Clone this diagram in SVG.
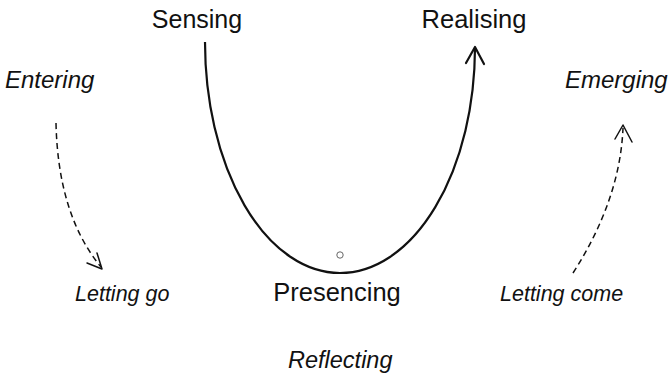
<svg xmlns="http://www.w3.org/2000/svg" width="672" height="379" viewBox="0 0 672 379">
<style>
text{font-family:"Liberation Sans",Arial,sans-serif;fill:#111}
.it{font-style:italic}
.main{fill:none;stroke:#111;stroke-width:2.2}
.dash{fill:none;stroke:#111;stroke-width:1.5;stroke-dasharray:6,4}
.head{fill:none;stroke:#111;stroke-linecap:round;stroke-linejoin:round}
</style>
<rect width="672" height="379" fill="#fff"/>
<g id="connectors">
<path class="main" d="M205,42 A135,231 0 0,0 340,273 A135,226 0 0,0 475,48"/>
<path class="head" stroke-width="2.2" d="M466,63 L475,47 L484,64"/>
<path class="dash" d="M56,123 Q58,215 101,267"/>
<path class="head" stroke-width="1.5" d="M87,263 L102,269 L97,253"/>
<path class="dash" d="M573,273 Q620,200 623,128"/>
<path class="head" stroke-width="1.5" d="M615,139 L623,125 L632,142"/>
</g>
<g id="sensing"><text x="197" y="28" font-size="25" text-anchor="middle">Sensing</text></g>
<g id="realising"><text x="474" y="28" font-size="25.5" text-anchor="middle">Realising</text></g>
<g id="presencing"><text x="337" y="301" font-size="25.5" text-anchor="middle">Presencing</text><circle cx="340" cy="255" r="3.2" fill="none" stroke="#666" stroke-width="1"/></g>
<g id="entering"><text class="it" x="5" y="88" font-size="24">Entering</text></g>
<g id="emerging"><text class="it" x="565" y="88" font-size="24">Emerging</text></g>
<g id="letting-go"><text class="it" x="75" y="301" font-size="21.5">Letting go</text></g>
<g id="letting-come"><text class="it" x="500" y="301" font-size="21.5">Letting come</text></g>
<g id="reflecting"><text class="it" x="288" y="368" font-size="23.5">Reflecting</text></g>
</svg>
